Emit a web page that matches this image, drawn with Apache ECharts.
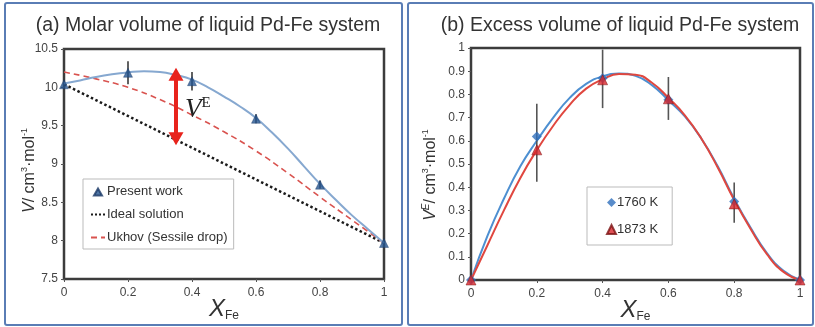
<!DOCTYPE html>
<html><head><meta charset="utf-8">
<script src="https://cdn.jsdelivr.net/npm/echarts@6/dist/echarts.min.js"></script>
<style>html,body{margin:0;padding:0;background:#fff}#c{width:815px;height:327px}</style>
</head><body><div id="c"></div>
<script>
// ---------- Panel (a) data ----------
const xPts = [0, 0.2, 0.4, 0.6, 0.8, 1];
const presentWork = [10.04, 10.19, 10.08, 9.59, 8.73, 7.97];
const presentErr = [0, 0.15, 0.12, 0.06, 0.05, 0];
const fitX = [0,0.05,0.1,0.15,0.2,0.25,0.3,0.35,0.4,0.45,0.5,0.55,0.6,0.65,0.7,0.75,0.8,0.85,0.9,0.95,1];
const presentFit = [10.05,10.09,10.135,10.17,10.195,10.21,10.2,10.16,10.1,10.0,9.88,9.75,9.6,9.41,9.2,8.97,8.74,8.53,8.33,8.15,7.97];
const idealX = [0, 1];
const idealV = [10.04, 7.97];
const ukhovX = [0,0.1,0.2,0.3,0.4,0.5,0.6,0.7,0.8,0.9,1];
const ukhovV = [10.2,10.11,10.0,9.84,9.64,9.42,9.17,8.88,8.57,8.27,7.97];
const arrowX = 0.35, arrowLow = 9.33, arrowHigh = 10.17, labelV = 9.71;
const yRangeA = [7.5, 10.5, 0.5];

// ---------- Panel (b) data ----------
const ve1760 = [0, 0.619, 0.87, 0.777, 0.338, 0];
const ve1873 = [0, 0.561, 0.863, 0.781, 0.328, 0];
const veErrLow  = [null, 0.424, 0.741, 0.69, 0.247, null];
const veErrHigh = [null, 0.76, 0.993, 0.875, 0.42, null];
const fit1760 = [0,0.19,0.35,0.49,0.60,0.70,0.785,0.845,0.878,0.89,0.88,0.84,0.775,0.705,0.61,0.49,0.35,0.225,0.115,0.04,0];
const fit1873 = [0,0.15,0.30,0.44,0.56,0.665,0.755,0.825,0.865,0.888,0.885,0.85,0.785,0.71,0.61,0.485,0.345,0.22,0.11,0.035,0];
const yRangeB = [0, 1, 0.1];

const pairs = (xs, ys) => xs.map((x, i) => [x, ys[i]]);
const FONT = 'Liberation Sans, Arial, sans-serif';

function errRender(color){
  return function(params, api){
    const x = api.value(0), lo = api.value(1), hi = api.value(2);
    const p1 = api.coord([x, lo]), p2 = api.coord([x, hi]);
    return {type:'line', shape:{x1:p1[0], y1:p1[1], x2:p2[0], y2:p2[1]},
      style:{stroke:color, lineWidth:1.6}};
  };
}
const errA = [];
xPts.forEach((x,i)=>{ if(presentErr[i]>0) errA.push([x, presentWork[i]-presentErr[i], presentWork[i]+presentErr[i]]); });
const errB = [];
xPts.forEach((x,i)=>{ if(veErrLow[i]!=null) errB.push([x, veErrLow[i], veErrHigh[i]]); });

const axisLabel = {fontSize:12, color:'#444', fontFamily:FONT};
const xName = {name:'{x|X}{s|Fe}', nameLocation:'middle', nameGap:17, nameMoveOverlap:false,
  nameTextStyle:{rich:{x:{fontSize:24, fontStyle:'italic', fontFamily:FONT, color:'#333', lineHeight:26},
                       s:{fontSize:12, fontFamily:FONT, color:'#333', verticalAlign:'bottom', lineHeight:12}}}};
function xAxis(gi){
  return Object.assign({type:'value', gridIndex:gi, min:0, max:1, interval:0.2,
    axisLine:{show:false}, axisTick:{show:true, length:3, lineStyle:{color:'#555'}},
    splitLine:{show:false}, axisLabel:Object.assign({margin:8}, axisLabel)}, xName);
}
const supRich = {
  i:{fontSize:16, fontStyle:'italic', fontFamily:FONT, color:'#333', lineHeight:20},
  n:{fontSize:16, fontFamily:FONT, color:'#333', lineHeight:20},
  s:{fontSize:9, fontFamily:FONT, color:'#333', verticalAlign:'top', lineHeight:12},
  si:{fontSize:10, fontStyle:'italic', fontFamily:FONT, color:'#333', verticalAlign:'top', lineHeight:12}
};
const noSym = {color:'rgba(0,0,0,0)', borderColor:'rgba(0,0,0,0)', borderWidth:0};

const option = {
  animation:false,
  backgroundColor:'#fff',
  title:[
    {text:'(a) Molar volume of liquid Pd-Fe system', left:208, top:16, textAlign:'center', padding:0,
     textStyle:{fontSize:19.5, fontWeight:'normal', color:'#333', fontFamily:FONT}},
    {text:'(b) Excess volume of liquid Pd-Fe system', left:620, top:16, textAlign:'center', padding:0,
     textStyle:{fontSize:19.5, fontWeight:'normal', color:'#333', fontFamily:FONT}}
  ],
  grid:[
    {left:64, top:49, width:320, height:230, outerBoundsMode:'none', containLabel:false,
     show:true, borderColor:'#3c3c3c', borderWidth:2.5, backgroundColor:'transparent'},
    {left:471, top:48, width:329, height:232, outerBoundsMode:'none', containLabel:false,
     show:true, borderColor:'#3c3c3c', borderWidth:2.5, backgroundColor:'transparent'}
  ],
  xAxis:[xAxis(0), xAxis(1)],
  yAxis:[
    {type:'value', gridIndex:0, min:yRangeA[0], max:yRangeA[1], interval:yRangeA[2],
     axisLine:{show:false}, axisTick:{show:true, length:3, lineStyle:{color:'#555'}}, splitLine:{show:false},
     axisLabel:Object.assign({margin:6}, axisLabel),
     name:'{i|V}{n|/ cm}{s|3}{n|·mol}{s|-1}', nameLocation:'middle', nameGap:24, nameRotate:90, nameMoveOverlap:false,
     nameTextStyle:{rich:supRich, padding:[0,13,0,0]}},
    {type:'value', gridIndex:1, min:yRangeB[0], max:yRangeB[1], interval:yRangeB[2],
     axisLine:{show:false}, axisTick:{show:true, length:3, lineStyle:{color:'#555'}}, splitLine:{show:false},
     axisLabel:Object.assign({margin:6}, axisLabel),
     name:'{i|V}{si|E}{n|/ cm}{s|3}{n|·mol}{s|-1}', nameLocation:'middle', nameGap:30, nameRotate:90, nameMoveOverlap:false,
     nameTextStyle:{rich:supRich, padding:[0,22,0,0]}}
  ],
  legend:[
    {left:83, top:179, orient:'vertical', selectedMode:false,
     data:[{name:'Present work', icon:'path://M0,0 L0,0 Z M14,9 L14,9 Z M3,8.5 L7,1.5 L11,8.5 Z'},
           {name:'Ideal solution', itemStyle:noSym},
           {name:'Ukhov (Sessile drop)', itemStyle:noSym}],
     backgroundColor:'#fff', borderColor:'#bbb', borderWidth:1, padding:[6,6,5,7],
     itemWidth:14, itemHeight:9, itemGap:10,
     textStyle:{fontSize:13, color:'#333', fontFamily:FONT, padding:[0,0,0,-3]}},
    {left:587, top:187, orient:'vertical', selectedMode:false,
     data:['1760 K','1873 K'],
     backgroundColor:'#fff', borderColor:'#bbb', borderWidth:1, padding:[9,14,9,19],
     itemWidth:9, itemHeight:9, itemGap:14,
     textStyle:{fontSize:13, color:'#333', fontFamily:FONT, padding:[0,0,0,-4]}}
  ],
  series:[
    // Panel (a)
    {name:'Ideal solution', type:'line', xAxisIndex:0, yAxisIndex:0, data:pairs(idealX, idealV),
     symbol:'none', lineStyle:{color:'#1a1a1a', width:2.5, type:'dotted'}, itemStyle:{color:'#1a1a1a'}, z:2,
     markLine:{silent:true, symbol:['path://M8,0 L16,13 L0,13 Z','path://M8,0 L16,13 L0,13 Z'], symbolSize:[15,13], label:{show:false},
       lineStyle:{color:'#e8231c', width:4, type:'solid'}, itemStyle:{color:'#e8231c'},
       data:[[{coord:[arrowX, arrowLow]}, {coord:[arrowX, arrowHigh]}]]}},
    {name:'Ukhov (Sessile drop)', type:'line', xAxisIndex:0, yAxisIndex:0, data:pairs(ukhovX, ukhovV),
     symbol:'none', smooth:true, lineStyle:{color:'#d9534f', width:1.6, type:[6,4]}, itemStyle:{color:'#d9534f'}, z:3},
    {name:'fitA', type:'line', xAxisIndex:0, yAxisIndex:0, data:pairs(fitX, presentFit),
     symbol:'none', smooth:true, lineStyle:{color:'#86a8d0', width:2}, z:4},
    {name:'errA', type:'custom', xAxisIndex:0, yAxisIndex:0, data:errA, renderItem:errRender('#3a3a3a'),
     encode:{x:0, y:[1,2]}, z:5},
    {name:'Present work', type:'scatter', xAxisIndex:0, yAxisIndex:0, data:pairs(xPts, presentWork),
     symbol:'triangle', symbolSize:9, itemStyle:{color:'#24548f', borderColor:'#1b3a66', borderWidth:0.5}, clip:false, z:6},
    // Panel (b)
    {name:'fit1760', type:'line', xAxisIndex:1, yAxisIndex:1, data:pairs(fitX, fit1760),
     symbol:'none', smooth:true, lineStyle:{color:'#4d8fd1', width:2}, z:2},
    {name:'fit1873', type:'line', xAxisIndex:1, yAxisIndex:1, data:pairs(fitX, fit1873),
     symbol:'none', smooth:true, lineStyle:{color:'#e0473f', width:2}, z:3},
    {name:'errB', type:'custom', xAxisIndex:1, yAxisIndex:1, data:errB, renderItem:errRender('#555'),
     encode:{x:0, y:[1,2]}, z:4},
    {name:'1760 K', type:'scatter', xAxisIndex:1, yAxisIndex:1, data:pairs(xPts, ve1760),
     symbol:'diamond', symbolSize:10, itemStyle:{color:'#2f6fbd'}, clip:false, z:5},
    {name:'1873 K', type:'scatter', xAxisIndex:1, yAxisIndex:1, data:pairs(xPts, ve1873),
     symbol:'triangle', symbolSize:10, itemStyle:{color:'#d8262b', borderColor:'#7a1414', borderWidth:0.6}, clip:false, z:6}
  ]
};

const chart = echarts.init(document.getElementById('c'), null, {renderer:'canvas'});
chart.setOption(option);
const p = chart.convertToPixel({gridIndex:0}, [arrowX, labelV]);
chart.setOption({
  graphic:[
    {type:'rect', shape:{x:5, y:3, width:397, height:322, r:2}, style:{fill:'none', stroke:'#5a7db5', lineWidth:2}, z:0},
    {type:'rect', shape:{x:408, y:3, width:405, height:322, r:2}, style:{fill:'none', stroke:'#5a7db5', lineWidth:2}, z:0},
    {type:'text', x:p[0]+9, y:p[1], z:10,
     style:{text:'{v|V}{e|E}', verticalAlign:'middle', align:'left',
       rich:{v:{fontSize:27, fontStyle:'italic', fontFamily:'Liberation Serif, serif', fill:'#222', lineHeight:28},
             e:{fontSize:15, fontFamily:'Liberation Serif, serif', fill:'#222', verticalAlign:'top', lineHeight:18}}}}
  ]
});
</script></body></html>
